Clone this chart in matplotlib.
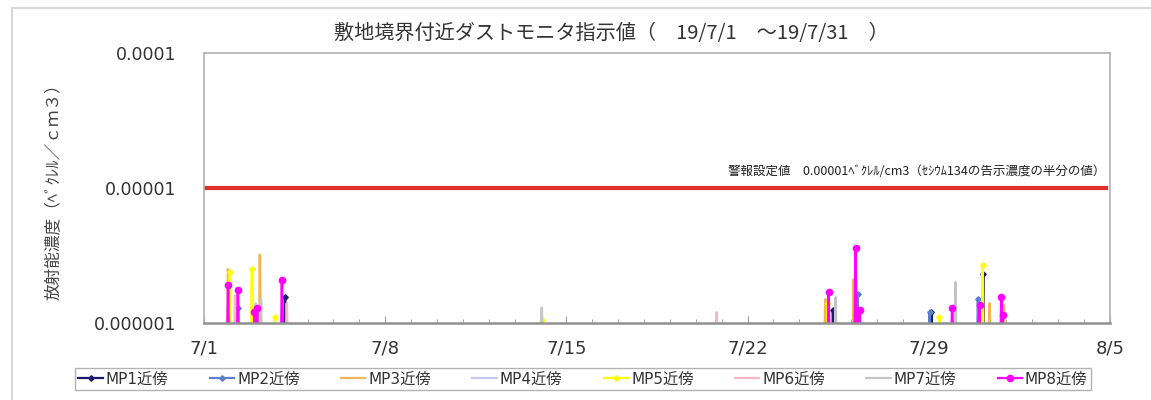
import pandas as pd
import numpy as np
import matplotlib
matplotlib.use("Agg")
import matplotlib.pyplot as plt
from matplotlib.lines import Line2D

plt.rcParams['font.family'] = ['DejaVu Sans', 'Noto Sans CJK JP']

# --- data (days after 2019/7/1 00:00, Bq/cm3) ---
start = pd.Timestamp('2019-07-01')
nd_value = 5e-7   # below detection, drawn under the axis floor

series_names = ['MP1近傍', 'MP2近傍', 'MP3近傍', 'MP4近傍',
                'MP5近傍', 'MP6近傍', 'MP7近傍', 'MP8近傍']

mp1_days = [3.13, 24.30, 28.10, 30.10]
mp1_vals = [1.55e-6, 1.25e-6, 1.2e-6, 2.3e-6]
mp2_days = [1.31, 25.25, 28.03, 29.90]
mp2_vals = [1.3e-6, 1.65e-6, 1.2e-6, 1.5e-6]
mp3_days = [0.93, 2.16, 24.00, 25.10, 30.35, 30.90]
mp3_vals = [2.5e-6, 3.2e-6, 1.5e-6, 2.1e-6, 1.4e-6, 1.35e-6]
mp4_days = [2.00, 29.00]
mp4_vals = [1.4e-6, 1.3e-6]
mp5_days = [1.00, 1.85, 2.74, 13.05, 24.10, 28.40, 30.08]
mp5_vals = [2.4e-6, 2.5e-6, 1.1e-6, 1.05e-6, 1.4e-6, 1.1e-6, 2.7e-6]
mp6_days = [1.20, 3.20, 19.80]
mp6_vals = [1.6e-6, 1.4e-6, 1.2e-6]
mp7_days = [2.20, 13.05, 24.40, 29.03]
mp7_vals = [1.5e-6, 1.3e-6, 1.55e-6, 2.0e-6]
mp8_days = [0.93, 1.31, 1.95, 2.05, 3.01, 24.13, 25.17, 25.33,
            28.90, 29.96, 30.80, 30.85]
mp8_vals = [1.9e-6, 1.75e-6, 1.2e-6, 1.3e-6, 2.1e-6, 1.7e-6, 3.6e-6,
            1.25e-6, 1.3e-6, 1.35e-6, 1.55e-6, 1.15e-6]

alarm_level = 1e-5
tick_dates = pd.date_range('2019-07-01', '2019-08-05', freq='7D')

all_days = [mp1_days, mp2_days, mp3_days, mp4_days,
            mp5_days, mp6_days, mp7_days, mp8_days]
all_vals = [mp1_vals, mp2_vals, mp3_vals, mp4_vals,
            mp5_vals, mp6_vals, mp7_vals, mp8_vals]

colors = ['#1c1c6e', '#5b7fc8', '#f2b455', '#c8c8ee',
          '#ffff00', '#ffb4c4', '#c4c4c4', '#ff00ff']
markers = ['D', 'D', None, None, 'D', None, None, 'o']
msizes = [2.8, 2.8, 0, 0, 2.8, 0, 0, 4.5]


def build_series(days, vals):
    # hourly readings: below-detection on both sides of each reading
    pts = {}
    for d, v in zip(days, vals):
        pts.setdefault(round(d - 1 / 24, 4), nd_value)
        pts.setdefault(round(d + 1 / 24, 4), nd_value)
        pts[round(d, 4)] = v
    keys = sorted(pts)
    t = start + pd.to_timedelta(keys, unit='D')
    return t, [pts[k] for k in keys]


fig = plt.figure(figsize=(11.51, 4.0), dpi=100)
ax = fig.add_axes([204 / 1151, 1 - 323 / 400, 906 / 1151, 270 / 400])

for name, d, v, c, m, ms in zip(series_names, all_days, all_vals,
                                colors, markers, msizes):
    t, y = build_series(d, v)
    ax.plot(t, y, color=c, lw=1.8, marker=m, ms=ms, mec=c, mfc=c)

ax.axhline(alarm_level, color='#e0302c', lw=3, xmax=0.996)
ax.text(pd.Timestamp('2019-08-04 20:00'), 1.33e-5,
        '警報設定値　0.00001ﾍﾞｸﾚﾙ/cm3（ｾｼｳﾑ134の告示濃度の半分の値）',
        ha='right', va='center', fontsize=9, color='#202020',
        family=['Noto Sans CJK JP', 'DejaVu Sans'])

ax.set_yscale('log')
ax.set_ylim(1e-6, 1e-4)
ax.set_yticks([1e-6, 1e-5, 1e-4])
ax.set_yticklabels(['0.000001', '0.00001', '0.0001'])
ax.yaxis.set_minor_locator(matplotlib.ticker.NullLocator())
ax.tick_params(axis='y', length=0, pad=20, labelsize=12.5, labelcolor='#333333')

ax.set_xlim(start, pd.Timestamp('2019-08-05'))
ax.set_xticks(tick_dates)
ax.set_xticklabels([f'{d.month}/{d.day}' for d in tick_dates])
ax.set_xticks(pd.date_range('2019-07-01', '2019-08-05', freq='D'), minor=True)
ax.tick_params(axis='x', which='both', direction='in', color='#a0a0a0',
               pad=12, labelsize=13, labelcolor='#333333')
ax.tick_params(axis='x', which='major', length=5)
ax.tick_params(axis='x', which='minor', length=3)

for s in ax.spines.values():
    s.set_color('#b0b0b0')
    s.set_linewidth(1.2)
ax.spines['bottom'].set_color('#909090')
ax.spines['bottom'].set_linewidth(1.8)

ax.set_ylabel('放射能濃度（ﾍﾞｸﾚﾙ／ｃｍ３）', fontsize=12, color='#444444',
              family=['Noto Sans CJK JP', 'DejaVu Sans'], labelpad=22)

fig.text(611 / 1151, 1 - 34 / 400,
         '敷地境界付近ダストモニタ指示値（　19/7/1　～19/7/31　）',
         ha='center', va='center', fontsize=14.5, color='#333333',
         family=['Noto Sans CJK JP', 'DejaVu Sans'])

handles = [Line2D([], [], color=c, lw=1.6, marker=m, ms=ms, mec=c, mfc=c)
           for c, m, ms in zip(colors, markers, msizes)]
leg = fig.legend(handles, series_names, loc='center',
                 bbox_to_anchor=(583 / 1151, 1 - 379 / 400), ncol=8,
                 frameon=True, fancybox=False,
                 handlelength=1.6, handletextpad=0.2, columnspacing=2.7,
                 borderpad=0.25, prop={'family': ['DejaVu Sans', 'Noto Sans CJK JP'],
                                       'size': 11})
leg.get_frame().set_edgecolor('#a0a0a0')
leg.get_frame().set_linewidth(1.0)
for txt in leg.get_texts():
    txt.set_color('#333333')

# outer chart frame
fig.add_artist(Line2D([12 / 1151, 12 / 1151], [0, 1 - 8 / 400],
                      transform=fig.transFigure, color='#d0d0d0', lw=1.2))
fig.add_artist(Line2D([12 / 1151, 1], [1 - 8 / 400, 1 - 8 / 400],
                      transform=fig.transFigure, color='#d0d0d0', lw=1.2))

fig.savefig('out.png', dpi=100)
plt.close(fig)
